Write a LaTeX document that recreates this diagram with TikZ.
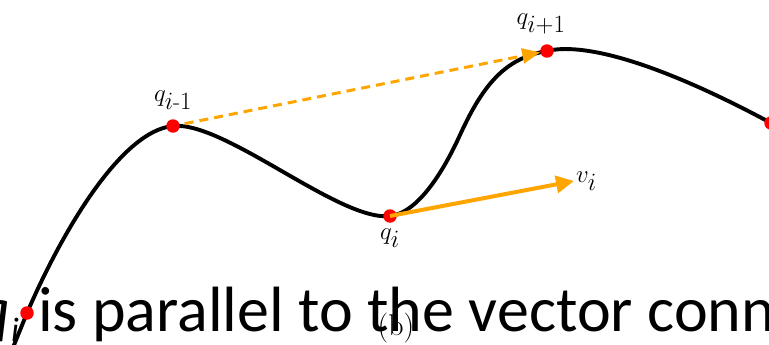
\documentclass[tikz,border=0pt]{standalone}
\usepackage{amsmath}
\usepackage{fontspec}
\newfontfamily\calfont{Carlito}
\usetikzlibrary{arrows.meta}
\definecolor{arrorange}{RGB}{255,165,0}
\begin{document}
\begin{tikzpicture}[x=1pt,y=-1pt,
  curveline/.style={line width=3.9pt, black},
  dot/.style={circle, fill=red, inner sep=0pt, minimum size=13.5pt},
  mlabel/.style={font=\fontsize{33}{35}\selectfont, inner sep=0pt},
  bigtext/.style={font=\calfont\fontsize{64}{68}\selectfont, inner sep=0pt},
  dasharrow/.style={arrorange, line width=3pt, dash pattern=on 9pt off 6pt,
    -{Triangle[length=18pt,width=15pt]}},
  solidarrow/.style={arrorange, line width=4pt,
    -{Triangle[length=18pt,width=17pt]}}]
\useasboundingbox (0,0) rectangle (769,345);
% big overlaid text
\node[bigtext, anchor=base west] (txt) at (38,331) {is parallel to the vector conn};
\node[bigtext, anchor=base east] (bq) at (11,331) {\itshape q};
\node[font=\calfont\fontsize{34}{36}\selectfont\itshape, inner sep=0pt, anchor=base west] (bqi) at (11,341) {i};
\node[font=\fontsize{30}{32}\selectfont, inner sep=0pt, anchor=base] (lb) at (396,335) {(b)};
% curve
\draw[curveline] (12,350) -- (27,313)
  .. controls (60,236) and (120,131) .. (173,126)
  .. controls (225,121) and (340,222) .. (390,216)
  .. controls (418,213) and (443.4,171.4) .. (460,135)
  .. controls (482.8,85) and (505,58) .. (547,51)
  .. controls (580,43) and (650,58) .. (771,123);
% points
\node[dot] (q0) at (27,313) {};
\node[dot] (qm) at (173,126) {};
\node[dot] (qi) at (390,216) {};
\node[dot] (qp) at (547,51) {};
\node[dot] (q3) at (771,123) {};
\coordinate (vtip) at (574,181);
% arrows
\draw[dasharrow, shorten <=5pt] (qm) -- (qp);
\draw[solidarrow] (qi.center) -- (vtip);
% labels
\node[mlabel] (lqm) at (173,100) {$q_{i\text{-}1}$};
\node[mlabel] (lqp) at (541,24) {$q_{i+1}$};
\node[mlabel] (lqi) at (390,238) {$q_i$};
\node[mlabel, anchor=west] (lvi) at (576,181) {$v_i$};
\end{tikzpicture}
\end{document}
